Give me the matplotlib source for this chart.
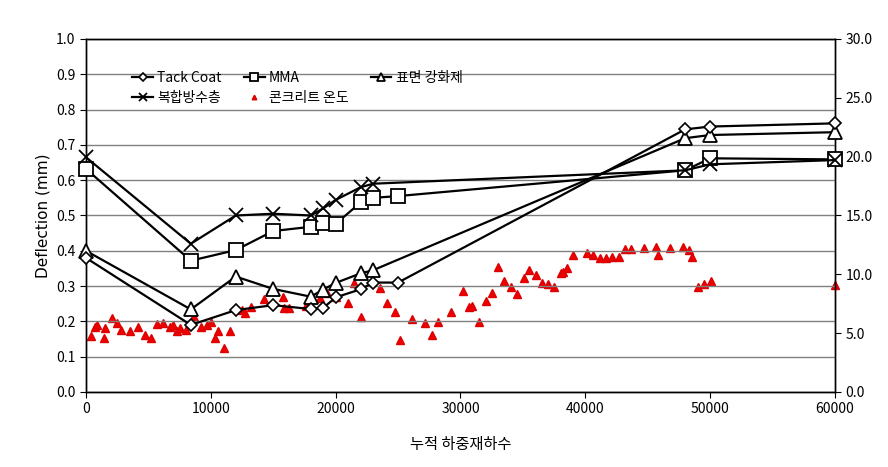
import numpy as np
import matplotlib
matplotlib.use('Agg')
import matplotlib.pyplot as plt

# 글꼴 설정
plt.rcParams['font.family'] = ['Noto Sans CJK KR', 'DejaVu Sans']
plt.rcParams['font.size'] = 10

# 누적 하중재하수 및 처짐량 (mm)
load_tack = [0, 8400, 12000, 15000, 18000, 19000, 20000, 22000, 23000, 25000, 48000, 50000, 60000]
tack_coat = [0.38, 0.19, 0.232, 0.246, 0.235, 0.238, 0.268, 0.291, 0.31, 0.31, 0.744, 0.752, 0.761]

load_mma = [0, 8400, 12000, 15000, 18000, 19000, 20000, 22000, 23000, 25000, 48000, 50000, 60000]
mma = [0.632, 0.372, 0.402, 0.456, 0.468, 0.478, 0.476, 0.537, 0.55, 0.555, 0.628, 0.662, 0.659]

load_surf = [0, 8400, 12000, 15000, 18000, 19000, 20000, 22000, 23000, 48000, 50000, 60000]
surface = [0.40, 0.234, 0.327, 0.292, 0.27, 0.29, 0.309, 0.336, 0.345, 0.719, 0.728, 0.736]

load_comp = [0, 8400, 12000, 15000, 18000, 19000, 20000, 22000, 23000, 48000, 50000, 60000]
composite = [0.665, 0.42, 0.50, 0.505, 0.50, 0.52, 0.544, 0.58, 0.59, 0.628, 0.645, 0.657]

# 콘크리트 온도
load_temp = [400, 745, 880, 1465, 1545, 2105, 2485, 2780, 3500, 4165, 4700, 5180, 5710, 6145,
             6730, 6945, 7290, 7530, 8010, 8545, 8650, 9210, 9690, 10010, 10330, 10550, 11080,
             11535, 12495, 12735, 13215, 14235, 15755, 15885, 16285, 17620, 18745, 19280, 20025,
             20960, 21490, 22050, 23550, 24085, 24725, 25150, 26115, 27180, 27715, 28220, 29210,
             30200, 30700, 30920, 31480, 32015, 32520, 33000, 33480, 34020, 34520, 35060, 35510,
             36020, 36500, 36980, 37510, 38050, 38230, 38530, 39030, 40150, 40635, 41170, 41650,
             42155, 42670, 43170, 43655, 44670, 45680, 45790, 46800, 47820, 48325, 48540, 49000,
             49530, 50040, 60000]
temp = [4.76, 5.55, 5.69, 4.56, 5.41, 6.26, 5.84, 5.27, 5.18, 5.55, 4.84, 4.59, 5.80, 5.84,
        5.55, 5.69, 5.18, 5.41, 5.27, 6.26, 6.40, 5.50, 5.69, 5.97, 4.56, 5.18, 3.71,
        5.18, 6.97, 6.74, 7.20, 7.90, 8.05, 7.11, 7.11, 7.31, 7.96, 8.39, 8.10,
        7.54, 9.24, 6.35, 8.86, 7.54, 6.80, 4.42, 6.23, 5.84, 4.82, 5.95, 6.77,
        8.56, 7.25, 7.33, 5.95, 7.73, 8.44, 10.60, 9.43, 8.90, 8.33, 9.71, 10.37,
        9.94, 9.29, 9.18, 8.95, 10.11, 10.17, 10.51, 11.67, 11.81, 11.67, 11.36, 11.36,
        11.50, 11.50, 12.13, 12.13, 12.21, 12.30, 11.64, 12.21, 12.35, 12.07, 11.50, 8.95,
        9.15, 9.43, 9.10]

fig = plt.figure(figsize=(8.88, 4.67), dpi=100)
ax = fig.add_axes([0.0968, 0.1606, 0.8435, 0.7559])
ax2 = ax.twinx()

lw = 1.6
h1, = ax.plot(load_tack, tack_coat, color='black', lw=lw, marker='D', ms=6.5,
              mfc='white', mec='black', mew=1.2, label='Tack Coat', zorder=5, clip_on=False)
h2, = ax.plot(load_mma, mma, color='black', lw=lw, marker='s', ms=10,
              mfc='white', mec='black', mew=1.3, label='MMA', zorder=4, clip_on=False)
h3, = ax.plot(load_surf, surface, color='black', lw=lw, marker='^', ms=10,
              mfc='white', mec='black', mew=1.3, label='표면 강화제', zorder=4, clip_on=False)
h4, = ax.plot(load_comp, composite, color='black', lw=lw, marker='x', ms=10,
              mec='black', mew=1.3, label='복합방수층', zorder=4, clip_on=False)
h5, = ax2.plot(load_temp, temp, ls='none', marker='^', ms=5.5, color='#ee0000',
               mec='#dd0000', label='콘크리트 온도', clip_on=False)

ax.set_xlim(0, 60000)
ax.set_ylim(0, 1.0)
ax2.set_ylim(0, 30)
ax.set_xticks(np.arange(0, 60001, 10000))
ax.set_yticks(np.arange(0, 1.01, 0.1))
ax2.set_yticks(np.arange(0, 30.1, 5))
ax.set_yticklabels(['%.1f' % v for v in np.arange(0, 1.01, 0.1)])
ax2.set_yticklabels(['%.1f' % v for v in np.arange(0, 30.1, 5)])

ax.yaxis.grid(True, color='#808080', lw=1.0)
ax.set_axisbelow(True)
ax.set_zorder(ax2.get_zorder() + 1)
ax.patch.set_visible(False)

for a in (ax, ax2):
    a.tick_params(direction='out', length=4, width=0.8, labelsize=10)
    for s in a.spines.values():
        s.set_color('black')
        s.set_linewidth(1.0)

ax.set_ylabel('Deflection (mm)', fontsize=11, family=['DejaVu Sans'])
ax.set_xlabel('누적 하중재하수', fontsize=11, labelpad=14)

leg = ax.legend([h1, h4, h2, h5, h3],
                ['Tack Coat', '복합방수층', 'MMA', '콘크리트 온도', '표면 강화제'],
                ncol=3, frameon=False, loc='upper left', bbox_to_anchor=(0.045, 0.945),
                handlelength=1.5, handletextpad=0.3, columnspacing=1.6,
                labelspacing=0.45, fontsize=10, markerscale=0.6)

fig.savefig('out.png', dpi=100)
